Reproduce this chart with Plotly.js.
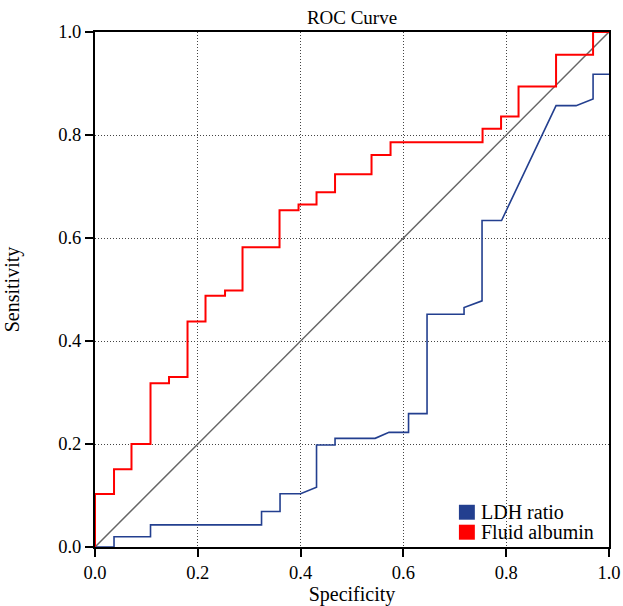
<!DOCTYPE html>
<html>
<head>
<meta charset="utf-8">
<script src="https://cdn.plot.ly/plotly-3.0.1.min.js"></script>
<style>html,body{margin:0;padding:0;background:#fff;}#chart{width:623px;height:606px;}</style>
</head>
<body>
<div id="chart"></div>
<script>
// Fluid albumin ROC step corners (hv steps)
var albuminSpec = [0, 0, 0.037, 0.071, 0.108, 0.144, 0.180, 0.215, 0.253, 0.287, 0.359, 0.396, 0.431, 0.467, 0.538, 0.575, 0.754, 0.790, 0.824, 0.897, 0.969, 1.0];
var albuminSens = [0, 0.103, 0.151, 0.200, 0.318, 0.330, 0.438, 0.488, 0.498, 0.582, 0.654, 0.665, 0.689, 0.724, 0.761, 0.786, 0.812, 0.836, 0.894, 0.956, 1.0, 1.0];

// LDH ratio ROC vertices (includes tied, sloped segments)
var ldhSpec = [0, 0.037, 0.037, 0.108, 0.108, 0.324, 0.324, 0.360, 0.360, 0.400, 0.431, 0.431, 0.467, 0.467, 0.545, 0.572, 0.610, 0.610, 0.646, 0.646, 0.718, 0.718, 0.753, 0.753, 0.791, 0.897, 0.936, 0.969, 0.969, 1.0];
var ldhSens = [0, 0, 0.020, 0.020, 0.043, 0.043, 0.069, 0.069, 0.1035, 0.1035, 0.116, 0.198, 0.198, 0.211, 0.211, 0.2226, 0.2226, 0.259, 0.259, 0.452, 0.452, 0.465, 0.478, 0.634, 0.634, 0.857, 0.857, 0.870, 0.918, 0.918];

var refLine = [0, 1];
var seriesNames = ['LDH ratio', 'Fluid albumin'];
var seriesColors = ['#233f8f', '#ff0000'];

var traces = [
  {x: refLine, y: refLine, mode: 'lines', line: {color: '#666666', width: 1.5}, showlegend: false, hoverinfo: 'skip'},
  {x: ldhSpec, y: ldhSens, mode: 'lines', name: seriesNames[0], line: {color: seriesColors[0], width: 1.6}, showlegend: false},
  {x: albuminSpec, y: albuminSens, mode: 'lines', name: seriesNames[1], line: {color: seriesColors[1], width: 2, shape: 'hv'}, showlegend: false}
];

var fontFam = '"Liberation Serif", "Times New Roman", serif';
var axisCommon = {
  range: [0, 1],
  dtick: 0.2,
  tick0: 0,
  tickformat: '.1f',
  showline: true,
  linecolor: '#000',
  linewidth: 2,
  mirror: true,
  ticks: 'outside',
  ticklen: 8,
  tickwidth: 2,
  tickcolor: '#000',
  showgrid: true,
  gridcolor: '#444',
  gridwidth: 1,
  griddash: '1px,2px',
  zeroline: false,
  tickfont: {family: fontFam, size: 18.5, color: '#000'}
};

// legend drawn as colour squares + labels in paper coordinates
var legendSquaresX = [0.708, 0.739];
var legendRowsY = [[0.053, 0.082], [0.0142, 0.0433]];
var legendTextX = 0.747;
var legendTextY = [0.0685, 0.0287];

var shapes = [];
var annotations = [];
for (var i = 0; i < seriesNames.length; i++) {
  shapes.push({type: 'rect', xref: 'paper', yref: 'paper', x0: legendSquaresX[0], x1: legendSquaresX[1], y0: legendRowsY[i][0], y1: legendRowsY[i][1], fillcolor: seriesColors[i], line: {width: 0}});
  annotations.push({xref: 'paper', yref: 'paper', x: legendTextX, y: legendTextY[i], xanchor: 'left', yanchor: 'middle', showarrow: false, text: seriesNames[i], font: {family: fontFam, size: 20, color: '#000'}});
}

var layout = {
  width: 623,
  height: 606,
  margin: {l: 95, r: 14, t: 32, b: 59},
  paper_bgcolor: '#fff',
  plot_bgcolor: '#fff',
  font: {family: fontFam, color: '#000'},
  title: {text: 'ROC Curve', font: {family: fontFam, size: 19, color: '#000'}, xref: 'paper', x: 0.5, xanchor: 'center', yref: 'container', y: 0.972, yanchor: 'middle'},
  xaxis: Object.assign({}, axisCommon, {title: {text: 'Specificity', font: {family: fontFam, size: 20, color: '#000'}, standoff: 6}}),
  yaxis: Object.assign({}, axisCommon, {title: {text: 'Sensitivity', font: {family: fontFam, size: 20, color: '#000'}, standoff: 33}}),
  showlegend: false,
  shapes: shapes,
  annotations: annotations
};

Plotly.newPlot('chart', traces, layout, {displayModeBar: false, staticPlot: true});
</script>
</body>
</html>
